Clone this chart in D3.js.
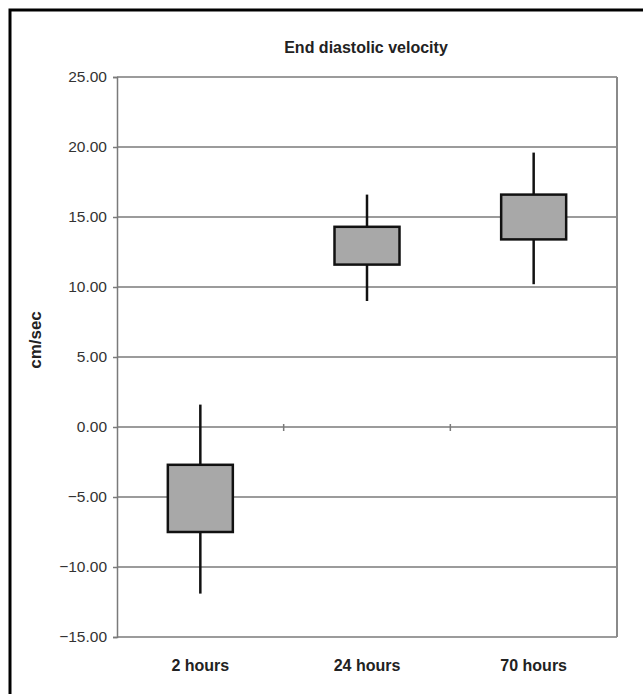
<!DOCTYPE html>
<meta charset="utf-8">
<style>
body { margin: 0; background: white; }
text {
    font-family: "Liberation Sans", Arial, sans-serif;
}
</style>
<svg id="thevis" width="643" height="694"></svg>

<script src="https://d3js.org/d3.v7.min.js"></script>
<script>

// data
var categories = ["2 hours", "24 hours", "70 hours"];
var whiskerLow = [-11.9, 9.0, 10.2];
var boxLow = [-7.5, 11.6, 13.4];
var boxHigh = [-2.7, 14.3, 16.6];
var whiskerHigh = [1.6, 16.6, 19.6];
var yTicks = [-15, -10, -5, 0, 5, 10, 15, 20, 25];

var rows = categories.map(function (c, i) {
    return {cat: c, wlo: whiskerLow[i], lo: boxLow[i], hi: boxHigh[i], whi: whiskerHigh[i]};
});

var svg = d3.select("svg");
var margin = {top: 77, right: 26, bottom: 57, left: 117};
var width = +svg.attr("width") - margin.left - margin.right;
var height = +svg.attr("height") - margin.top - margin.bottom;

// outer frame (right and bottom run off the picture)
svg.append("rect")
    .attr("x", 10).attr("y", 10)
    .attr("width", 700).attr("height", 700)
    .attr("fill", "none").attr("stroke", "black").attr("stroke-width", 3);

var g = svg.append("g")
    .attr("transform", "translate(" + margin.left + "," + margin.top + ")");

var x = d3.scaleBand().domain(categories).range([0, width]);
var y = d3.scaleLinear().domain([-15, 25]).range([height, 0]);

// gridlines
g.selectAll(".grid")
    .data(yTicks)
    .enter().append("line")
    .attr("x1", 0).attr("x2", width)
    .attr("y1", d => y(d)).attr("y2", d => y(d))
    .attr("stroke", "#7a7a7a").attr("stroke-width", 1.5);

// right border of plot area
g.append("line")
    .attr("x1", width).attr("x2", width)
    .attr("y1", 0).attr("y2", height)
    .attr("stroke", "#8a8a8a").attr("stroke-width", 2);

// y axis
var yAxis = g.append("g")
    .call(d3.axisLeft(y).tickValues(yTicks).tickSize(4).tickPadding(6)
          .tickFormat(d3.format(".2f")));
yAxis.select(".domain").attr("stroke", "#7a7a7a").attr("stroke-width", 1.5);
yAxis.selectAll(".tick line").attr("stroke", "#7a7a7a").attr("stroke-width", 1.5);
yAxis.selectAll(".tick text")
    .attr("font-size", 15.5).attr("fill", "#333")
    .style("font-family", "'Liberation Sans', Arial, sans-serif")
    .text(d => d3.format(".2f")(d).replace("-", "\u2212"));

// category ticks on the zero line
g.selectAll(".ztick")
    .data(categories.slice(1))
    .enter().append("line")
    .attr("x1", d => x(d)).attr("x2", d => x(d))
    .attr("y1", y(0) - 3).attr("y2", y(0) + 4)
    .attr("stroke", "#7a7a7a").attr("stroke-width", 1.5);

// whiskers
g.selectAll(".whisker")
    .data(rows)
    .enter().append("line")
    .attr("x1", d => x(d.cat) + x.bandwidth() / 2)
    .attr("x2", d => x(d.cat) + x.bandwidth() / 2)
    .attr("y1", d => y(d.whi)).attr("y2", d => y(d.wlo))
    .attr("stroke", "#111").attr("stroke-width", 2.5);

// boxes
var boxW = x.bandwidth() * 0.39;
g.selectAll(".box")
    .data(rows)
    .enter().append("rect")
    .attr("x", d => x(d.cat) + x.bandwidth() / 2 - boxW / 2)
    .attr("y", d => y(d.hi))
    .attr("width", boxW)
    .attr("height", d => y(d.lo) - y(d.hi))
    .attr("fill", "#a8a8a8").attr("stroke", "#111").attr("stroke-width", 2.5);

// category labels
g.selectAll(".xlab")
    .data(categories)
    .enter().append("text")
    .attr("x", d => x(d) + x.bandwidth() / 2)
    .attr("y", height + 34)
    .attr("text-anchor", "middle")
    .attr("font-size", 16).attr("font-weight", "bold").attr("fill", "#222")
    .text(d => d);

// title
svg.append("text")
    .attr("x", 366).attr("y", 53)
    .attr("text-anchor", "middle")
    .attr("font-size", 16).attr("font-weight", "bold").attr("fill", "#222")
    .text("End diastolic velocity");

// y axis title
svg.append("text")
    .attr("transform", "translate(41,340) rotate(-90)")
    .attr("text-anchor", "middle")
    .attr("font-size", 17).attr("font-weight", "bold").attr("fill", "#222")
    .text("cm/sec");

</script>
